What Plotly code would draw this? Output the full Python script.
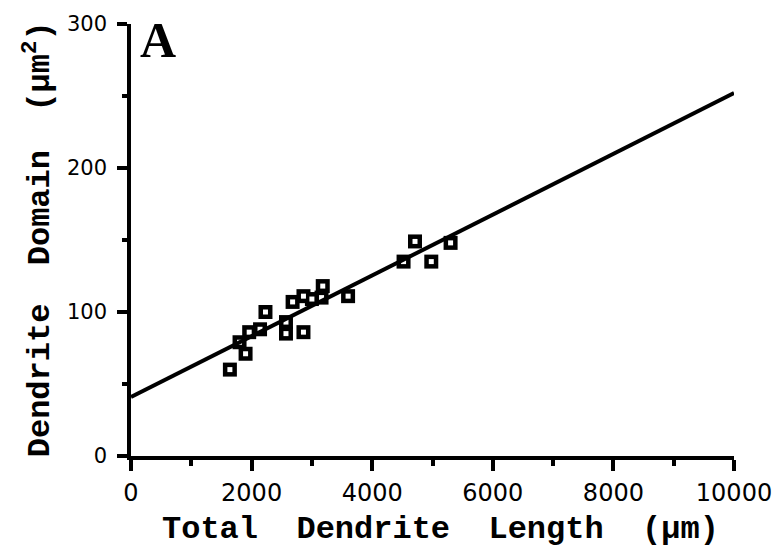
import plotly.graph_objects as go

# Data
total_length = [1640, 1800, 1900, 1960, 2140, 2230, 2570, 2570, 2680, 2860,
                2860, 3000, 3160, 3180, 3600, 4520, 4710, 4980, 5300]
domain = [60, 79, 71, 86, 88, 100, 93, 85, 107, 86,
          111, 109, 110, 118, 111, 135, 149, 135, 148]
fit_x = [0, 10000]
fit_y = [41, 252]
x_ticks = [0, 2000, 4000, 6000, 8000, 10000]
y_ticks = [0, 100, 200, 300]

MONO = "Liberation Mono, Courier New, monospace"
SANS = "DejaVu Sans, Arial, sans-serif"
SERIF = "Liberation Serif, serif"

fig = go.Figure()
fig.add_trace(go.Scatter(
    x=total_length, y=domain, mode="markers",
    marker=dict(symbol="square", size=14, color="black",
                line=dict(width=0)),
    showlegend=False, cliponaxis=False, hoverinfo="skip"))
fig.add_trace(go.Scatter(
    x=total_length, y=domain, mode="markers",
    marker=dict(symbol="square", size=5, color="white",
                line=dict(width=0)),
    showlegend=False, cliponaxis=False))
fig.add_trace(go.Scatter(
    x=fit_x, y=fit_y, mode="lines",
    line=dict(color="black", width=4),
    showlegend=False, cliponaxis=False))

fig.update_layout(
    width=784, height=555,
    margin=dict(l=131, r=42, t=18, b=99),
    paper_bgcolor="white", plot_bgcolor="white",
    xaxis=dict(range=[0, 10000], tickvals=x_ticks,
               ticktext=[str(v) for v in x_ticks],
               showgrid=False, zeroline=False,
               showline=True, linecolor="black", linewidth=3.5,
               ticks="outside", ticklen=11, tickwidth=3.5, tickcolor="black",
               ticklabelstandoff=1,
               minor=dict(dtick=1000, ticks="outside", ticklen=6,
                          tickwidth=3.5, tickcolor="black", showgrid=False),
               tickfont=dict(family=SANS, size=24, color="black")),
    yaxis=dict(range=[0, 300], tickvals=y_ticks,
               ticktext=[str(v) for v in y_ticks],
               showgrid=False, zeroline=False,
               showline=True, linecolor="black", linewidth=3.5,
               ticks="outside", ticklen=10, tickwidth=3.5, tickcolor="black",
               ticklabelstandoff=6,
               minor=dict(dtick=50, ticks="outside", ticklen=5,
                          tickwidth=3.5, tickcolor="black", showgrid=False),
               tickfont=dict(family=SANS, size=21, color="black")),
    annotations=[
        dict(text="<b>Total  Dendrite  Length  (µm)</b>",
             xref="paper", yref="paper", x=0.514, y=0,
             xanchor="center", yanchor="middle", yshift=-73,
             showarrow=False, font=dict(family=MONO, size=32, color="black")),
        dict(text="<b>Dendrite  Domain  (µm<sup>2</sup>)</b>",
             xref="paper", yref="paper", x=-0.154, y=0.502,
             xanchor="center", yanchor="middle", textangle=-90,
             showarrow=False, font=dict(family=MONO, size=32, color="black")),
        dict(text="<b>A</b>", xref="paper", yref="paper",
             x=0.012, y=1.0, xanchor="left", yanchor="top", yshift=14,
             showarrow=False, font=dict(family=SERIF, size=50, color="black")),
    ],
)

fig.write_html("out.html")
